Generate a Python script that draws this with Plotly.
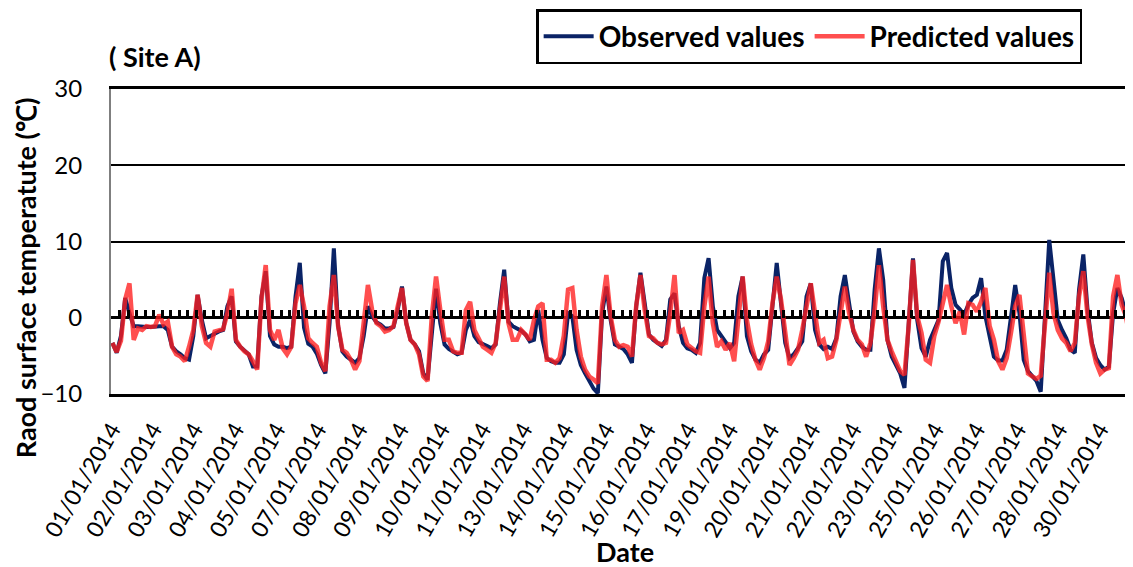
import plotly.graph_objects as go

observed = [
    -3.3, -4.6, -2.4, 2.6, 0.6, -1.1, -1.1, -1.2, -1.2, -1.2,
    -1.1, -1.1, -1.1, -1.6, -3.8, -4.4, -4.8, -5.3, -5.5, -2.4,
    3.0, -0.3, -2.7, -2.4, -2.0, -1.8, -1.6, 1.5, 2.8, -3.1,
    -3.8, -4.3, -4.8, -6.4, -6.4, 2.8, 6.1, -2.4, -3.5, -3.8,
    -3.8, -4.0, -3.8, 2.8, 7.2, -1.3, -3.4,
    -3.8, -4.7, -6.2, -7.3, -0.7, 9.1, -1.1, -4.4, -5.1, -5.5,
    -5.9, -5.3, -2.4, 1.5, 0.2, -0.6, -0.9, -1.4, -1.4, -1.2,
    1.0, 4.1, -0.7, -2.9, -3.5, -4.4, -7.3, -8.1, -1.6, 3.8,
    -0.7, -3.5, -4.1, -4.5, -4.8, -4.6, -1.6, -0.3, -2.4, -3.2,
    -3.4, -3.7, -4.0, -3.5, 1.9,
    6.3, -0.5, -1.1, -1.4, -1.7, -2.2, -3.1, -2.9, 1.0, -2.9,
    -5.3, -5.7, -5.9, -5.9, -4.8, 0.6, 0.2, -4.2, -6.2, -7.3,
    -8.3, -9.3, -9.9, 0.6, 4.1, -0.3, -3.5, -3.8, -4.1, -4.8,
    -5.9, 1.5, 5.9, 1.9, -2.2, -2.9, -3.3, -3.7, -2.9, 2.4,
    3.2, -1.1, -3.3, -4.0, -4.2, -4.6, -3.3, 5.2, 7.8,
    1.5, -1.6, -2.4, -3.1, -4.0, -3.3, 2.8, 5.4, -2.4, -4.4,
    -5.5, -5.9, -4.8, -4.2, 1.5, 7.2, 1.9, -3.3, -5.3, -4.8,
    -4.0, -3.1, 2.8, 4.5, -1.6, -3.5, -4.1, -3.8, -4.1, -2.7,
    2.8, 5.6, 1.9, -1.8, -3.1, -3.8, -4.2, -4.2, 3.7, 9.1,
    5.0, -2.9, -5.1, -6.2, -7.3, -9.2, -1.0,
    7.8, -0.3, -4.0, -5.1, -2.9, -1.6, -0.3, 7.4, 8.5, 3.9,
    1.7, 1.1, 0.4, 1.7, 2.6, 3.0, 5.2, 0.2, -2.7, -5.1,
    -5.6, -5.6, -4.2, 0.2, 4.3, 0.6, -5.5, -7.0, -7.7, -8.3,
    -9.7, 0.6, 10.2, 5.0, -0.3, -1.6, -2.7, -4.2, -4.6, 3.7,
    8.3, 1.0, -3.3, -5.3, -6.2, -6.8, -6.4, 0.6, 3.9, 2.6, 0.4, -1.4,
]

predicted = [
    -3.3, -4.5, -3.0, 2.4, 4.5, -2.9, -1.4, -1.6, -1.1, -1.2,
    -1.1, 0.4, -0.9, -0.5, -3.8, -4.8, -5.1, -5.7, -3.8, -1.6,
    3.0, -1.1, -3.3, -3.8, -1.8, -1.6, -1.5, 0.6, 3.8, -2.9,
    -3.8, -4.4, -4.8, -5.7, -6.8, 2.4, 6.9, -1.6, -2.9, -1.6,
    -4.0, -4.8, -3.8, 1.9, 4.3, 1.5, -2.7,
    -3.3, -3.8, -5.9, -7.0, 1.5, 5.6, -1.1, -4.2, -4.6, -5.5,
    -6.8, -5.7, -0.7, 4.3, 1.0, -0.7, -1.1, -1.8, -1.6, -1.1,
    1.5, 3.9, -0.7, -2.9, -3.5, -4.8, -7.7, -8.3, 0.2, 5.4,
    1.0, -2.9, -2.9, -4.4, -4.6, -4.6, 1.0, 2.1, -1.6, -2.7,
    -3.8, -4.2, -4.6, -3.3, 1.5,
    5.4, -0.7, -2.9, -2.9, -1.6, -2.2, -2.9, -0.3, 1.5, 1.9,
    -5.5, -5.5, -5.9, -5.3, -2.4, 3.7, 3.9, -1.6, -5.1, -6.8,
    -7.7, -8.1, -8.6, 1.5, 5.6, 0.2, -2.9, -3.8, -3.6, -3.8,
    -5.1, 1.5, 5.6, 1.0, -2.4, -2.7, -3.3, -3.5, -3.3, 0.6,
    5.6, -2.0, -1.6, -3.5, -4.0, -4.4, -4.6, 1.5, 5.4,
    -0.7, -3.8, -3.1, -4.2, -3.3, -5.7, -0.7, 5.4, -0.3, -3.5,
    -5.5, -6.8, -5.3, -3.1, 1.9, 5.4, 2.4, -2.4, -6.2, -5.3,
    -4.2, -1.6, 1.9, 4.5, 0.6, -3.3, -2.9, -5.3, -5.1, -2.9,
    0.6, 4.1, 0.6, -1.6, -2.9, -3.5, -5.1, -3.3, 1.0, 6.9,
    1.5, -2.9, -4.4, -5.9, -7.0, -7.5, -1.0,
    7.6, 0.2, -2.0, -5.5, -5.9, -2.4, -0.5, 1.9, 4.3, 1.5,
    -0.7, 0.8, -2.2, 1.9, 1.7, 0.8, 2.1, 3.9, -1.1, -2.9,
    -5.7, -6.8, -5.3, -2.0, 1.5, 3.0, -2.4, -7.3, -7.7, -8.0,
    -7.6, -1.6, 5.9, 0.6, -1.6, -2.7, -3.3, -4.4, -3.3, 2.8,
    6.1, 0.2, -3.5, -5.9, -7.3, -6.8, -6.6, 2.8, 5.6, 1.7, 0.2, -2.9,
]

date_labels = [
    "01/01/2014", "02/01/2014", "03/01/2014", "04/01/2014", "05/01/2014",
    "07/01/2014", "08/01/2014", "09/01/2014", "10/01/2014", "11/01/2014",
    "13/01/2014", "14/01/2014", "15/01/2014", "16/01/2014", "17/01/2014",
    "19/01/2014", "20/01/2014", "21/01/2014", "22/01/2014", "23/01/2014",
    "25/01/2014", "26/01/2014", "27/01/2014", "28/01/2014", "30/01/2014",
]

n_hours = 720          # hourly categories on the axis
label_every = 29       # a date label every 29 categories
tick_every = 6         # small tick marks every 6 categories
sample_step = 3        # values above are read every 3 hours

hours = [sample_step * i + 0.5 for i in range(len(observed))]
label_hours = [label_every * k for k in range(len(date_labels))]

FONT = "Lato, 'Open Sans', Arial, sans-serif"

fig = go.Figure()
fig.add_trace(go.Scatter(
    x=hours, y=observed, mode="lines", name="Observed values",
    line=dict(color="#0a2366", width=4),
))
fig.add_trace(go.Scatter(
    x=hours, y=predicted, mode="lines", name="Predicted values",
    line=dict(color="rgba(255,30,30,0.78)", width=4.5),
))
# helper (empty) trace so the tick-mark axis at y = 0 is drawn
fig.add_trace(go.Scatter(x=[None], y=[None], xaxis="x2", showlegend=False,
                         hoverinfo="skip"))

# the page body adds an 8px offset, so the figure is 8px smaller on each axis
fig.update_layout(
    width=1125, height=559,
    margin=dict(l=103, r=0, t=81, b=173, pad=0, autoexpand=False),
    paper_bgcolor="white", plot_bgcolor="white",
    font=dict(family=FONT, color="black"),
    showlegend=True,
    legend=dict(
        orientation="h", x=0.416, xanchor="left", y=1.262, yanchor="top",
        bordercolor="black", borderwidth=2.5, bgcolor="white",
        font=dict(family=FONT, size=28, color="black", weight="bold"),
        itemwidth=50, tracegroupgap=0,
    ),
    xaxis=dict(
        range=[-0.5, n_hours - 0.5], automargin=False,
        tickmode="array", tickvals=label_hours, ticktext=date_labels,
        tickangle=-60, tickfont=dict(family=FONT, size=23, color="black"),
        showgrid=False, zeroline=False, ticks="",
        showline=True, linecolor="black", linewidth=3, mirror=True,
        ticklabelstandoff=10,
    ),
    xaxis2=dict(
        overlaying="x", anchor="free", position=0.25, side="bottom",
        range=[-0.5, n_hours - 0.5],
        tickmode="linear", tick0=-0.5, dtick=tick_every,
        ticks="inside", ticklen=8, tickwidth=2.5, tickcolor="black",
        showticklabels=False, showgrid=False, showline=False, zeroline=False,
    ),
    yaxis=dict(
        range=[-10, 30], tickmode="linear", tick0=0, dtick=10, automargin=False,
        showgrid=True, gridcolor="black", gridwidth=2,
        zeroline=True, zerolinecolor="black", zerolinewidth=2.5,
        showline=True, linecolor="#7f7f7f", linewidth=2,
        tickfont=dict(family=FONT, size=24, color="black"),
        ticks="", ticklabelstandoff=22,
    ),
    annotations=[
        dict(text="<b>( Site A)</b>", xref="paper", yref="paper",
             x=-0.004, y=1.105, xanchor="left", yanchor="middle",
             showarrow=False, font=dict(family=FONT, size=27, color="black")),
        dict(text="<b>Raod surface temperatute (℃)</b>", xref="paper", yref="paper",
             x=-0.084, y=0.38, xanchor="center", yanchor="middle", textangle=-90,
             showarrow=False, font=dict(family=FONT, size=27, color="black")),
        dict(text="<b>Date</b>", xref="paper", yref="paper",
             x=0.503, y=-0.515, xanchor="center", yanchor="middle",
             showarrow=False, font=dict(family=FONT, size=27, color="black")),
    ],
)

fig.write_html("out.html")
